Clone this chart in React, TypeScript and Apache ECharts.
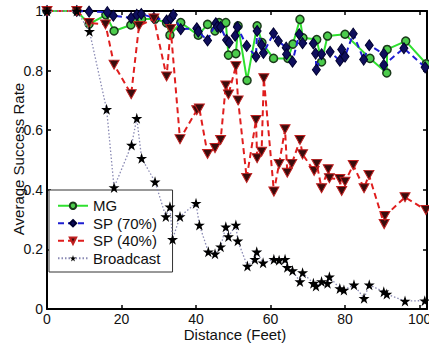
import React, { useEffect, useRef } from "react";
import * as echarts from "echarts";

const seriesNames = ["MG", "SP (70%)", "SP (40%)", "Broadcast"];
const xTitle = "Distance (Feet)";
const yTitle = "Average Success Rate";
const xTicks = [0, 20, 40, 60, 80, 100];
const yTicks = [0, 0.2, 0.4, 0.6, 0.8, 1];

const mgX = [0, 8, 11.3, 15.8, 18, 22.5, 23.8, 25.4, 29, 32.1, 33, 35.9, 40.6, 43.1, 45.1, 46.2, 48, 48.7, 50.7, 51.3, 53.7, 56.4, 57.7, 60.8, 64.7, 66, 67.9, 68.7, 72.4, 73.7, 75.3, 80, 86.7, 91.2, 91.3, 96.3, 101.8];
const mgY = [1, 1, 0.956, 0.987, 0.933, 0.953, 0.97, 0.973, 0.973, 0.96, 0.919, 0.961, 0.919, 0.955, 0.933, 0.961, 0.961, 0.852, 0.857, 0.95, 0.767, 0.95, 0.894, 0.841, 0.841, 0.889, 0.972, 0.91, 0.904, 0.829, 0.916, 0.922, 0.841, 0.792, 0.871, 0.899, 0.823];

const sp70X = [0, 8, 11.3, 16.2, 17.8, 22.6, 24.1, 25.3, 28.7, 32.1, 33.2, 33.9, 35.9, 40.2, 40.6, 43.1, 45.3, 45.7, 46.6, 48.2, 48.9, 50.5, 51.1, 53.6, 56.1, 56.4, 57.6, 58.1, 60.8, 62.1, 64.2, 64.3, 65.9, 67.7, 68.6, 71.5, 72.1, 72.3, 73.7, 76, 78.6, 79.1, 80, 82.2, 85, 86.5, 90.4, 90.4, 95.8, 101.5];
const sp70Y = [1, 1, 0.998, 0.996, 0.984, 0.977, 0.987, 0.99, 0.977, 0.968, 0.975, 0.987, 0.939, 0.942, 0.931, 0.901, 0.959, 0.947, 0.946, 0.903, 0.894, 0.917, 0.946, 0.883, 0.847, 0.933, 0.886, 0.859, 0.925, 0.899, 0.877, 0.855, 0.83, 0.922, 0.892, 0.891, 0.857, 0.803, 0.855, 0.863, 0.833, 0.871, 0.847, 0.924, 0.837, 0.885, 0.856, 0.819, 0.875, 0.811];

const sp40X = [0, 8, 11.3, 15.7, 18, 22.6, 24.7, 28.7, 32.1, 33.2, 35.7, 40.2, 40.9, 43.1, 45.1, 46.6, 48, 48.7, 50.7, 51.3, 53.6, 56.1, 56.4, 57.6, 58.2, 60.9, 62.3, 63.9, 64.5, 65.7, 67.9, 68.6, 71.7, 72.4, 73.7, 75.5, 75.8, 78.6, 79.1, 80, 82.2, 85.1, 86.4, 90.5, 90.7, 96.1, 101.7];
const sp40Y = [1, 1, 0.96, 0.955, 0.82, 0.721, 0.95, 0.975, 0.78, 0.94, 0.57, 0.667, 0.673, 0.52, 0.54, 0.567, 0.75, 0.72, 0.815, 0.7, 0.44, 0.634, 0.506, 0.528, 0.774, 0.394, 0.487, 0.603, 0.457, 0.487, 0.567, 0.519, 0.463, 0.487, 0.405, 0.469, 0.439, 0.436, 0.396, 0.427, 0.483, 0.405, 0.45, 0.285, 0.312, 0.375, 0.332];

const bcX = [0, 8, 11.4, 16, 18, 22.7, 24.1, 25.4, 29, 31.9, 33, 33.7, 35.7, 40, 40.9, 43.3, 45.1, 46.6, 48, 48.7, 50.7, 51.2, 53.8, 55.8, 56.3, 58, 60.9, 62.3, 63.9, 64.5, 65.9, 67.9, 68.6, 71.5, 72.2, 73.7, 75.3, 75.8, 78.6, 79.7, 82.4, 85.1, 86.5, 90.4, 91.2, 96.1, 101.4];
const bcY = [1, 1, 0.932, 0.67, 0.408, 0.55, 0.64, 0.506, 0.427, 0.31, 0.343, 0.234, 0.31, 0.355, 0.282, 0.192, 0.185, 0.209, 0.276, 0.243, 0.282, 0.229, 0.144, 0.167, 0.192, 0.155, 0.167, 0.164, 0.167, 0.14, 0.129, 0.092, 0.122, 0.086, 0.077, 0.092, 0.086, 0.108, 0.069, 0.064, 0.081, 0.036, 0.081, 0.058, 0.05, 0.027, 0.028];

const zip = (xs: number[], ys: number[]) => xs.map((x, i) => [x, ys[i]]);

const FONT = "'Liberation Sans', Arial, sans-serif";
const STAR = "path://M50,0 L61,35 L98,35 L68,57 L79,91 L50,70 L21,91 L32,57 L2,35 L39,35 Z";
const TRI_DOWN = "path://M0,0 L10,0 L5,9 Z";

export default function App() {
  const ref = useRef<HTMLDivElement>(null);
  useEffect(() => {
    document.body.style.margin = "0";
    const chart = echarts.init(ref.current!, null, { renderer: "svg" });
    const axisLine = { show: true, onZero: false, lineStyle: { color: "#000", width: 2 } };
    const axisTick = { show: true, inside: true, length: 4, lineStyle: { color: "#000", width: 1.5 } };
    const xLabelFmt = (v: number) => (xTicks.includes(v) ? String(v) : "");
    const yLabelFmt = (v: number) => {
      const t = yTicks.find((k) => Math.abs(k - v) < 1e-9);
      return t === undefined ? "" : String(t);
    };
    const titleStyle = {
      fontSize: 15,
      fontFamily: FONT,
      fill: "#111",
      textAlign: "center",
      textVerticalAlign: "middle",
      align: "center",
      verticalAlign: "middle",
    };
    chart.setOption({
      animation: false,
      backgroundColor: "#fff",
      grid: { left: 47, right: 2, top: 11, bottom: 40, containLabel: false, outerBoundsMode: "none" },
      graphic: [
        { type: "text", x: 235, y: 334, style: { ...titleStyle, text: xTitle } },
        { type: "text", x: 18, y: 159, rotation: Math.PI / 2, style: { ...titleStyle, text: yTitle } },
      ],
      legend: {
        data: seriesNames,
        orient: "vertical",
        left: 49,
        top: 190,
        backgroundColor: "#fff",
        borderColor: "#333",
        borderWidth: 1,
        borderRadius: 0,
        padding: [8, 12, 6, 8],
        itemWidth: 30,
        itemHeight: 8,
        itemGap: 2,
        textStyle: { fontFamily: FONT, fontSize: 15, color: "#111", lineHeight: 15.5 },
      },
      xAxis: [
        {
          type: "value",
          position: "bottom",
          min: 0,
          max: 102,
          interval: 20,
          axisLine,
          axisTick,
          splitLine: { show: false },
          axisLabel: { formatter: xLabelFmt, color: "#111", fontSize: 14, fontFamily: FONT, margin: 3 },
        },
        {
          type: "value",
          position: "top",
          min: 0,
          max: 102,
          interval: 20,
          axisLine,
          axisTick,
          splitLine: { show: false },
          axisLabel: { show: false },
        },
      ],
      yAxis: [
        {
          type: "value",
          position: "left",
          min: 0,
          max: 1,
          interval: 0.2,
          axisLine,
          axisTick,
          splitLine: { show: false },
          axisLabel: { formatter: yLabelFmt, color: "#111", fontSize: 14, fontFamily: FONT, margin: 4 },
        },
        {
          type: "value",
          position: "right",
          min: 0,
          max: 1,
          interval: 0.2,
          axisLine,
          axisTick,
          splitLine: { show: false },
          axisLabel: { show: false },
        },
      ],
      series: [
        {
          name: seriesNames[0],
          type: "line",
          data: zip(mgX, mgY),
          symbol: "circle",
          symbolSize: 8,
          clip: false,
          z: 2,
          lineStyle: { color: "#2fe02f", width: 2 },
          itemStyle: { color: "#4ccc4c", borderColor: "#1a3a1a", borderWidth: 1.5 },
          emphasis: { disabled: true },
        },
        {
          name: seriesNames[1],
          type: "line",
          data: zip(sp70X, sp70Y),
          symbol: "diamond",
          symbolSize: [8, 11],
          clip: false,
          z: 3,
          lineStyle: { color: "#1e1ed2", width: 2, type: [6, 4] },
          itemStyle: { color: "#0e0e5c", borderColor: "#000030", borderWidth: 1 },
          emphasis: { disabled: true },
        },
        {
          name: seriesNames[2],
          type: "line",
          data: zip(sp40X, sp40Y),
          symbol: TRI_DOWN,
          symbolSize: [10, 9],
          clip: false,
          z: 4,
          lineStyle: { color: "#e01e1e", width: 2, type: [6, 4] },
          itemStyle: { color: "#3a0c0c", borderColor: "#c02020", borderWidth: 1 },
          emphasis: { disabled: true },
        },
        {
          name: seriesNames[3],
          type: "line",
          data: zip(bcX, bcY),
          symbol: STAR,
          symbolSize: 11,
          clip: false,
          z: 5,
          lineStyle: { color: "#8a8ab4", width: 1.3, type: [1.5, 2] },
          itemStyle: { color: "#000" },
          emphasis: { disabled: true },
        },
      ],
    });
    return () => chart.dispose();
  }, []);
  return <div ref={ref} style={{ width: 429, height: 349 }} />;
}
